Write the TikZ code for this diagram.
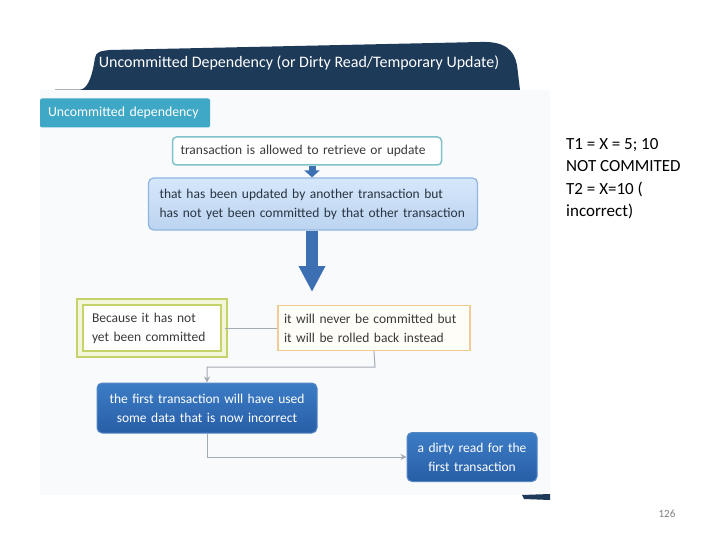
\documentclass[tikz,border=0pt]{standalone}
\usepackage{fontspec}
\setmainfont{Carlito}
\usetikzlibrary{arrows.meta}
\definecolor{navy}{HTML}{1D3A58}
\definecolor{tealtag}{HTML}{3FA8C6}
\definecolor{tealline}{HTML}{7FC2CA}
\definecolor{lbline}{HTML}{8FB6E0}
\definecolor{arrowblue}{HTML}{3C70B2}
\definecolor{greenline}{HTML}{C6D36A}
\definecolor{greengap}{HTML}{F3F6DA}
\definecolor{orangeline}{HTML}{F0CB93}
\definecolor{conn}{HTML}{A3ABB3}
\definecolor{txt}{HTML}{3A3A3A}
\definecolor{slidebg}{HTML}{F9FAFC}
\tikzset{
  boxtext/.style={font=\fontsize{13.5}{19}\selectfont, inner ysep=0pt, align=left},
  flowline/.style={draw=conn, line width=1pt},
  flowarrow/.style={flowline, -{Stealth[length=6pt,width=6pt]}},
  bluebox/.style={boxtext, draw={rgb,255:red,86;green,136;blue,196}, line width=1pt,
    top color={rgb,255:red,60;green,125;blue,198}, bottom color={rgb,255:red,40;green,94;blue,166},
    rounded corners=5pt, text=white, align=center},
}
\begin{document}
\begin{tikzpicture}[x=1pt,y=-1pt]
\useasboundingbox (0,0) rectangle (720,540);
% slide background
\fill[white] (0,0) rectangle (720,540);
\fill[slidebg] (40,90) rectangle (550,495);
% title band
\draw[gray!60, line width=0.8pt] (55,89) -- (82,89);
\fill[navy] (80,90) .. controls (90,88) and (93,70) .. (95,58)
  .. controls (96,52) and (100,51) .. (110,50)
  -- (480,42) .. controls (505,41) and (514,50) .. (517,65)
  -- (520,90) -- cycle;
\node[text=white, font=\fontsize{16}{19}\selectfont] (title) at (299,63)
  {Uncommitted Dependency (or Dirty Read/Temporary Update)};
\fill[navy] (522,495) -- (550,494) -- (550,500) -- (524,499) -- cycle;
% teal tag
\node[fill=tealtag, rounded corners=2pt, text=white, font=\fontsize{13.8}{16}\selectfont,
  minimum height=29pt, inner xsep=8pt, text width=154pt, align=left]
  (tag) at (125,113) {Uncommitted dependency};
% box 1
\node[boxtext, draw=tealline, line width=1.5pt, fill=white, rounded corners=4pt,
  text=txt, minimum height=28pt, inner xsep=8pt, text width=253pt]
  (b1) at (307,151) {transaction is allowed to retrieve or update};
% box 2
\node[boxtext, draw=lbline, line width=1.2pt, top color={rgb,255:red,214;green,231;blue,250},
  bottom color={rgb,255:red,188;green,212;blue,240}, rounded corners=5pt,
  text={rgb,255:red,40;green,52;blue,66}, minimum height=52pt, inner xsep=11pt, text width=307pt]
  (b2) at (313,204) {that has been updated by another transaction but\\has not yet been committed by that other transaction};
% arrows
\coordinate (bigtip) at (312,292);
\draw[arrowblue, line width=7pt, -{Triangle[length=7pt,width=15pt]}] (b1.south -| bigtip) -- (b2.north -| bigtip);
\draw[arrowblue, line width=12pt, -{Triangle[length=26pt,width=25pt]}] (b2.south -| bigtip) -- (bigtip);
% box 3 (double border)
\node[boxtext, draw=greenline, double=greengap, double distance=3.5pt, line width=1.8pt, fill=white,
  text=txt, minimum height=52pt, inner xsep=12pt, text width=120pt]
  (b3) at (152,328) {Because it has not\\yet been committed};
% box 4
\node[boxtext, draw=orangeline, line width=1.5pt, fill={rgb,255:red,255;green,253;blue,247},
  text=txt, minimum height=45pt, inner xsep=6pt, text width=180pt]
  (b4) at (374,328) {it will never be committed but\\it will be rolled back instead};
% box 5
\node[bluebox, minimum height=50pt, inner xsep=6pt, text width=208pt]
  (b5) at (207,408) {the first transaction will have used\\some data that is now incorrect};
% box 6
\node[bluebox, minimum height=49pt, inner xsep=6pt, text width=118pt]
  (b6) at (472,457) {a dirty read for the\\first transaction};
% connectors
\draw[flowline] (b3.east) -- (b4.west);
\draw[flowarrow] (b4.south) -- (375,367) -| (b5.north);
\draw[flowarrow] (b5.south) |- (b6.west);
% side notes
\node[anchor=north west, align=left, font=\fontsize{17}{22.5}\selectfont, inner sep=0pt]
  (notes) at (566,138) {T1 = X = 5; 10\\NOT COMMITED\\T2 = X=10 (\\incorrect)};
\node[text=gray, font=\fontsize{11}{13}\selectfont] (page) at (667,514) {126};
\end{tikzpicture}
\end{document}
